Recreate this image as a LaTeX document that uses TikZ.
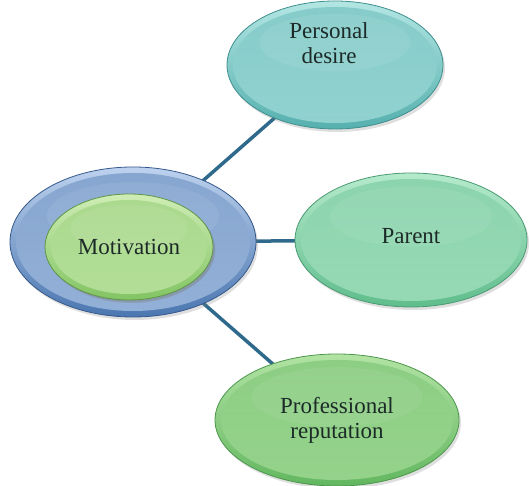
\documentclass[tikz,border=0pt]{standalone}
\usepackage{fontspec}
\setmainfont{Liberation Serif}
\usetikzlibrary{shapes.geometric,shadows,backgrounds,calc}

% palette
\definecolor{linkblue}{HTML}{2F6A8C}
\definecolor{txt}{HTML}{1C2A28}
\definecolor{pdLight}{HTML}{B3E6E3}\definecolor{pdDark}{HTML}{55B0AE}\definecolor{pdEdge}{HTML}{3F8F8E}
\definecolor{paLight}{HTML}{B5EACC}\definecolor{paDark}{HTML}{5FBD8C}\definecolor{paEdge}{HTML}{4A9A72}
\definecolor{prLight}{HTML}{B2E3A4}\definecolor{prDark}{HTML}{63B760}\definecolor{prEdge}{HTML}{4C974C}
\definecolor{moLight}{HTML}{CFEDB5}\definecolor{moDark}{HTML}{82C463}\definecolor{moEdge}{HTML}{5E9648}
\definecolor{ouLight}{HTML}{BDD2EE}\definecolor{ouDark}{HTML}{4A76B0}\definecolor{ouEdge}{HTML}{36598C}

\tikzset{
  x=1pt, y=1pt,
  bubble/.style n args={3}{
    ellipse, inner sep=0pt, draw=#3, line width=0.8pt,
    top color=#1, bottom color=#2,
    drop shadow={opacity=0.25, shadow xshift=2pt, shadow yshift=-3pt},
    path picture={
      \shade[top color=#2!60!#1, bottom color=#1!80!#2, opacity=0.8]
        let \p1=(path picture bounding box.north east),
            \p2=(path picture bounding box.center) in
        (\p2) ellipse [x radius={\x1-\x2-6pt}, y radius={\y1-\y2-6pt}];
      \fill[white, opacity=0.07]
        let \p1=(path picture bounding box.north east),
            \p2=(path picture bounding box.center) in
        ($(\p2)+(0,{0.35*(\y1-\y2)})$) ellipse [x radius={0.7*(\x1-\x2)}, y radius={0.45*(\y1-\y2)}];
    }
  },
  label text/.style={text=txt, font=\fontsize{23}{25}\selectfont, align=center},
  link/.style={draw=linkblue, line width=3.5pt}
}

\begin{document}
\begin{tikzpicture}
  \useasboundingbox (0,0) rectangle (529,486);

  % central pair of ellipses
  \node[bubble={ouLight}{ouDark}{ouEdge}, minimum width=246, minimum height=150] (outer) at (133,244) {};
  \node[bubble={moLight}{moDark}{moEdge}, minimum width=168, minimum height=106, drop shadow={opacity=0.3}] (mot) at (129,239) {};
  \node[label text] (motText) at (mot.center) {Motivation};

  % the three branches
  \node[bubble={pdLight}{pdDark}{pdEdge}, minimum width=216, minimum height=128] (pd) at (335,421) {};
  \node[label text] (pdText) at ($(pd.center)+(-6,22)$) {Personal\\desire};

  \node[bubble={paLight}{paDark}{paEdge}, minimum width=232, minimum height=134] (par) at (411,246) {};
  \node[label text] (parText) at ($(par.center)+(0,4)$) {Parent};

  \node[bubble={prLight}{prDark}{prEdge}, minimum width=244, minimum height=132] (pro) at (337,66) {};
  \node[label text] (proText) at (pro.center) {Professional\\reputation};

  % connectors behind the ellipses
  \begin{scope}[on background layer]
    \draw[link] (outer.center) -- (pd.center);
    \draw[link] (outer.center) -- (par.center);
    \draw[link] (outer.center) -- (pro.center);
  \end{scope}
\end{tikzpicture}
\end{document}
